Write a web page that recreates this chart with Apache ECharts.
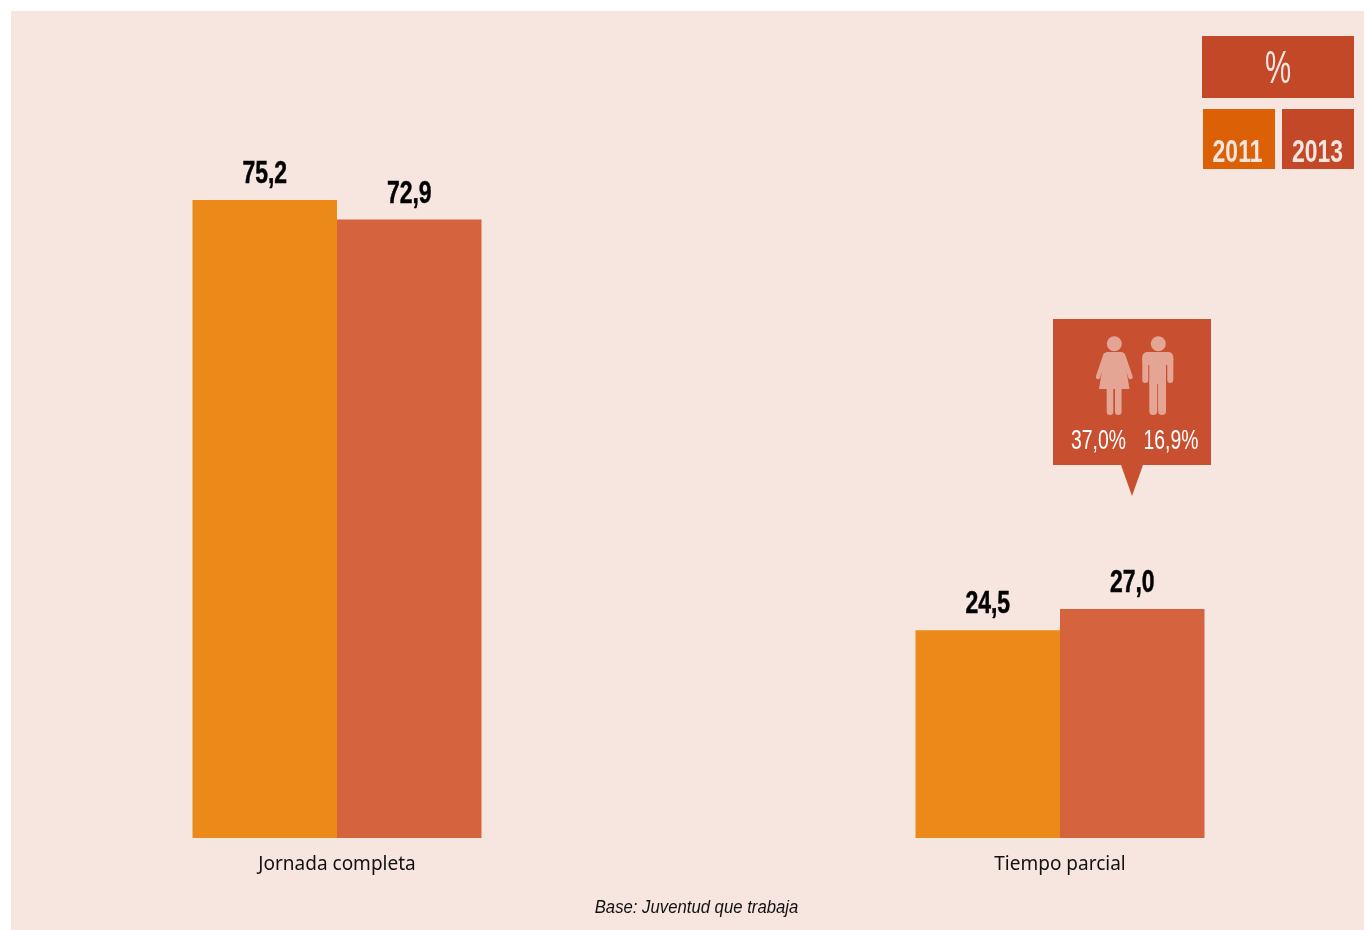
<!DOCTYPE html>
<html>
<head>
<meta charset="utf-8">
<style>html,body{margin:0;padding:0;background:#fff}#c{width:1364px;height:930px}</style>
<script src="https://cdn.jsdelivr.net/npm/echarts@6/dist/echarts.min.js"></script>
</head>
<body>
<div id="c"></div>
<script>
const categories = ['Jornada completa', 'Tiempo parcial'];
const seriesNames = ['2011', '2013'];
const values2011 = [75.2, 24.5];
const values2013 = [72.9, 27.0];
const unitLabel = '%';
const womenLabel = '37,0%';
const menLabel = '16,9%';
const baseNote = 'Base: Juventud que trabaja';

const sans = '"Liberation Sans",sans-serif';
const barW = 144.5;
const fmt = v => v.toFixed(1).replace('.', ',');
const icon = '#E5A594';
const rect = (x,y,w,h,fill,r) => ({type:'rect', shape:{x,y,width:w,height:h,r:r||0}, style:{fill}});
const circle = (cx,cy,r,fill) => ({type:'circle', shape:{cx,cy,r}, style:{fill}});
const poly = (points,fill) => ({type:'polygon', shape:{points}, style:{fill}});
const line = (x1,y1,x2,y2,w,stroke) => ({type:'line', shape:{x1,y1,x2,y2}, style:{stroke,lineWidth:w,lineCap:'round'}});
const text = (x,y,t,size,fill,weight,sx,extra) => ({type:'text', x, y, scaleX:sx||1, style:Object.assign({text:t, fontSize:size, fill, fontFamily:sans,
  fontWeight:weight||'normal', align:'center', verticalAlign:'middle'}, extra||{})});

// value labels: narrow bold text placed through the value/category scales
const labelSeries = (name, values, side) => ({
  name, type:'custom', z:5, silent:true,
  data: values.map((v,i) => [i,v]),
  renderItem: (params, api) => {
    const p = api.coord([api.value(0), api.value(1)]);
    return {type:'text', x:p[0] + side*barW/2, y:p[1]-25.5, scaleX:0.74,
      style:{text:fmt(api.value(1)), fontSize:31, fontWeight:'bold', fontFamily:sans, fill:'#000', stroke:'#000', lineWidth:0.5, align:'center', verticalAlign:'middle'}};
  }
});

const chart = echarts.init(document.getElementById('c'), null, {renderer:'canvas'});
chart.setOption({
  animation:false,
  backgroundColor:'#fff',
  grid:{left:337, width:723, top:74.4, height:763.6},
  xAxis:{type:'category', boundaryGap:false, data:categories, axisLine:{show:false}, axisTick:{show:false},
    axisLabel:{color:'#111', fontFamily:'"Noto Sans",sans-serif', fontSize:19, margin:17, showMinLabel:true, showMaxLabel:true, hideOverlap:false, interval:0}},
  yAxis:{type:'value', min:0, max:90, show:false, splitLine:{show:false}},
  series:[
    {name:seriesNames[0], type:'bar', data:values2011, barWidth:barW, barGap:0, z:3, clip:false,
      itemStyle:{color:'#EB8A18'}},
    {name:seriesNames[1], type:'bar', data:values2013, barWidth:barW, barGap:0, z:3, clip:false,
      itemStyle:{color:'#D5643E'}},
    labelSeries(seriesNames[0]+' etiquetas', values2011, -1),
    labelSeries(seriesNames[1]+' etiquetas', values2013, 1)
  ],
  graphic:[
    Object.assign(rect(11,11,1353,919,'#F7E6E0'),{z:-10, silent:true}),
    rect(1202,36,152,62,'#C24828'),
    text(1278,70.5,unitLabel,46,'#F7E6E0','normal',0.64),
    rect(1203,109,72,60,'#DC6006'),
    text(1237.5,153,seriesNames[0],31,'#F7E6E0','bold',0.74),
    rect(1282,109,72,60,'#C24828'),
    text(1317.5,153,seriesNames[1],31,'#F7E6E0','bold',0.74),
    rect(1053,319,158,146,'#C85031'),
    poly([[1121,465],[1143,465],[1132,496]],'#C85031'),
    // woman
    circle(1114.3,343.7,7.5,icon),
    poly([[1106,352],[1122.5,352],[1125,362],[1129.5,389],[1099,389],[1103.5,362]],icon),
    line(1105.5,355,1098,377,4.4,icon),
    line(1123,355,1130.5,377,4.4,icon),
    rect(1106.7,386,6.6,29,icon,3.3),
    rect(1115,386,6.6,29,icon,3.3),
    // man
    circle(1158.3,343.7,7.5,icon),
    rect(1142.3,352,31,13,icon,5),
    rect(1142.3,356,6,27,icon,3),
    rect(1167.3,356,6,27,icon,3),
    rect(1149.3,356,16.7,28,icon),
    rect(1149.3,378,7.9,37,icon,3.9),
    rect(1158.1,378,7.9,37,icon,3.9),
    text(1098.5,441.5,womenLabel,28,'#fff','normal',0.69),
    text(1171,441.5,menLabel,28,'#fff','normal',0.69),
    text(696.5,908,baseNote,19,'#111','normal',0.88,{fontStyle:'italic'})
  ]
});
</script>
</body>
</html>
